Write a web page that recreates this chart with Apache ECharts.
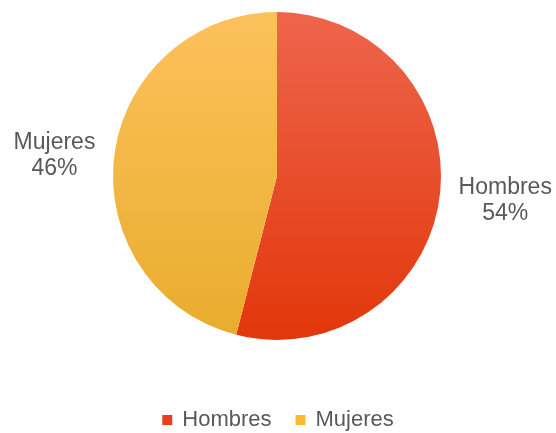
<!DOCTYPE html>
<html>
<head>
<meta charset="utf-8">
<script src="https://cdn.jsdelivr.net/npm/echarts@6/dist/echarts.min.js"></script>
<style>
html,body{margin:0;padding:0;background:#fff;}
#c{width:556px;height:433px;}
</style>
</head>
<body>
<div id="c"></div>
<script>
const categories = ['Hombres', 'Mujeres'];
const values = [54, 46];
const topColors = ['#EE654D', '#FDC15C'];
const bottomColors = ['#E2370A', '#E8AD2D'];
const legendColors = ['#E8401C', '#FDB92F'];

const chart = echarts.init(document.getElementById('c'), null, {renderer: 'canvas'});
const font = '"Liberation Sans", Arial, sans-serif';

chart.setOption({
  animation: false,
  legend: {
    bottom: -3,
    left: 'center',
    icon: 'rect',
    itemWidth: 10,
    itemHeight: 10,
    itemGap: 24,
    textStyle: {fontFamily: font, fontSize: 22, color: '#595959', padding: [0, 0, 0, 5]},
    data: categories.map((n, i) => ({name: n, itemStyle: {color: legendColors[i]}}))
  },
  series: [{
    type: 'pie',
    center: [277, 176],
    radius: 164,
    startAngle: 90,
    clockwise: true,
    label: {
      show: true,
      position: 'outside',
      alignTo: 'none',
      overflow: 'none',
      formatter: p => p.name + '\n' + p.value + '%',
      fontFamily: font,
      fontSize: 23,
      lineHeight: 26,
      color: '#595959'
    },
    labelLine: {show: false, length: 14, length2: 0},
    labelLayout: function (params) {
      const r = params.labelRect;
      return {x: r.x + r.width / 2, y: r.y + r.height / 2 + 2, align: 'center', verticalAlign: 'middle'};
    },
    emphasis: {disabled: true},
    data: categories.map((n, i) => ({
      name: n,
      value: values[i],
      itemStyle: {
        color: new echarts.graphic.LinearGradient(0, 0, 0, 1, [
          {offset: 0, color: topColors[i]},
          {offset: 1, color: bottomColors[i]}
        ])
      }
    }))
  }]
});
</script>
</body>
</html>
